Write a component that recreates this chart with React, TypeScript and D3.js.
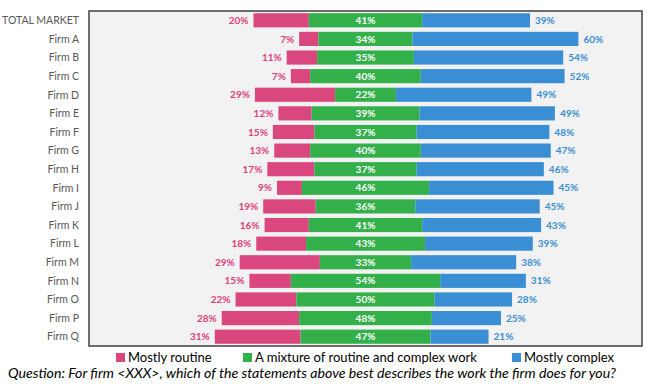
import React, { useEffect, useRef } from "react";
import * as d3 from "d3";

const categories = [
  "TOTAL MARKET", "Firm A", "Firm B", "Firm C", "Firm D", "Firm E", "Firm F", "Firm G", "Firm H",
  "Firm I", "Firm J", "Firm K", "Firm L", "Firm M", "Firm N", "Firm O", "Firm P", "Firm Q",
];
const routine = [20, 7, 11, 7, 29, 12, 15, 13, 17, 9, 19, 16, 18, 29, 15, 22, 28, 31];
const mixture = [41, 34, 35, 40, 22, 39, 37, 40, 37, 46, 36, 41, 43, 33, 54, 50, 48, 47];
const complex = [39, 60, 54, 52, 49, 49, 48, 47, 46, 45, 45, 43, 39, 38, 31, 28, 25, 21];
const seriesNames = ["Mostly routine", "A mixture of routine and complex work", "Mostly complex"];
const question =
  "Question: For firm <XXX>, which of the statements above best describes the work the firm does for you?";

const App = () => {
  const svgRef = useRef<SVGSVGElement | null>(null);

  useEffect(() => {
    const width = 648;
    const height = 388;
    const plot = { left: 89, right: 642, top: 11, bottom: 346 };
    const colors = ["#da477f", "#33b04a", "#3a8fd4"];
    const labelColors = ["#e0407c", "#ffffff", "#3a8fd4"];
    const font = "Lato, 'Open Sans', sans-serif";

    const svg = d3.select(svgRef.current);
    svg.selectAll("*").remove();
    svg.attr("width", width).attr("height", height);

    // diverging scale, centred on the middle of the green bar
    const x = d3.scaleLinear().domain([-100, 100]).range([plot.left, plot.right]);
    const y = d3
      .scaleBand()
      .domain(categories)
      .range([plot.top, plot.bottom])
      .paddingInner(0.24)
      .paddingOuter(0.12);

    // plot background + border
    svg
      .append("rect")
      .attr("x", plot.left)
      .attr("y", plot.top)
      .attr("width", plot.right - plot.left)
      .attr("height", plot.bottom - plot.top)
      .attr("fill", "#f2f2f2")
      .attr("stroke", "#404040")
      .attr("stroke-width", 1.5);

    const rows = categories.map((c, i) => {
      const start = -routine[i] - mixture[i] / 2;
      return {
        name: c,
        segs: [
          { k: 0, v: routine[i], x0: start, x1: start + routine[i] },
          { k: 1, v: mixture[i], x0: -mixture[i] / 2, x1: mixture[i] / 2 },
          { k: 2, v: complex[i], x0: mixture[i] / 2, x1: mixture[i] / 2 + complex[i] },
        ],
      };
    });

    const g = svg
      .selectAll("g.row")
      .data(rows)
      .enter()
      .append("g")
      .attr("class", "row")
      .attr("transform", (d) => `translate(0,${y(d.name)})`);

    g.selectAll("rect")
      .data((d) => d.segs)
      .enter()
      .append("rect")
      .attr("x", (d) => x(d.x0))
      .attr("width", (d) => x(d.x1) - x(d.x0))
      .attr("height", y.bandwidth())
      .attr("fill", (d) => colors[d.k]);

    // value labels
    g.selectAll("text.val")
      .data((d) => d.segs)
      .enter()
      .append("text")
      .attr("class", "val")
      .attr("x", (d) => (d.k === 0 ? x(d.x0) - 5 : d.k === 1 ? x(0) : x(d.x1) + 5))
      .attr("y", y.bandwidth() / 2)
      .attr("dy", "0.36em")
      .attr("text-anchor", (d) => (d.k === 0 ? "end" : d.k === 1 ? "middle" : "start"))
      .style("font-family", font)
      .style("font-weight", "bold")
      .style("font-size", "10px")
      .style("fill", (d) => labelColors[d.k])
      .text((d) => `${d.v}%`);

    // category axis
    svg
      .append("g")
      .selectAll("text")
      .data(categories)
      .enter()
      .append("text")
      .attr("x", plot.left - 10)
      .attr("y", (d) => (y(d) as number) + y.bandwidth() / 2)
      .attr("dy", "0.36em")
      .attr("text-anchor", "end")
      .style("font-family", font)
      .style("font-size", "10.5px")
      .style("fill", "#595959")
      .text((d) => d);

    // legend
    const legendX = [116, 243, 512];
    const legend = svg
      .append("g")
      .selectAll("g")
      .data(seriesNames)
      .enter()
      .append("g")
      .attr("transform", (_, i) => `translate(${legendX[i]},353)`);
    legend
      .append("rect")
      .attr("width", 9)
      .attr("height", 9)
      .attr("fill", (_, i) => colors[i]);
    legend
      .append("text")
      .attr("x", 12)
      .attr("y", 8.5)
      .style("font-family", font)
      .style("font-size", "13px")
      .style("fill", "#000")
      .text((d) => d);

    // question footnote
    svg
      .append("text")
      .attr("x", 8)
      .attr("y", 378)
      .attr("textLength", 608)
      .attr("lengthAdjust", "spacingAndGlyphs")
      .style("font-family", font)
      .style("font-style", "italic")
      .style("font-size", "12.5px")
      .style("fill", "#000")
      .text(question);
  }, []);

  return (
    <div style={{ position: "absolute", left: 0, top: 0 }}>
      <svg ref={svgRef} style={{ display: "block" }}></svg>
    </div>
  );
};

export default App;
